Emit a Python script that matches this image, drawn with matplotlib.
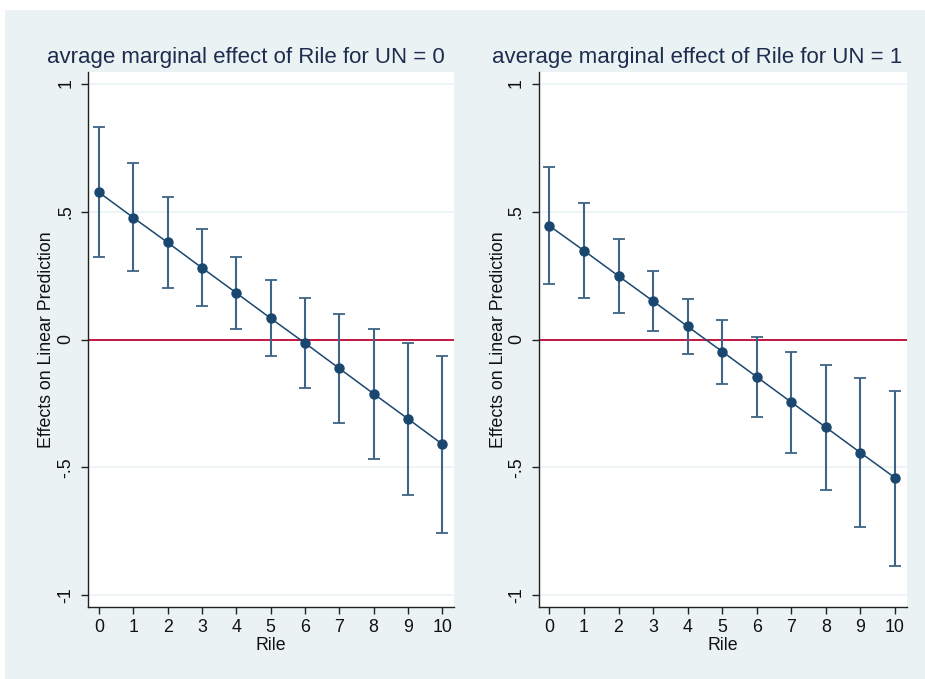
import matplotlib
matplotlib.use("Agg")
import matplotlib.pyplot as plt
from matplotlib.patches import Rectangle
import numpy as np

plt.rcParams['font.family'] = ['Liberation Sans', 'DejaVu Sans']

rile = [0, 1, 2, 3, 4, 5, 6, 7, 8, 9, 10]

# UN = 0
est0 = [0.575, 0.476, 0.379, 0.280, 0.182, 0.083, -0.014, -0.113, -0.212, -0.310, -0.409]
hi0 = [0.829, 0.690, 0.555, 0.432, 0.324, 0.234, 0.161, 0.098, 0.042, -0.012, -0.063]
lo0 = [0.324, 0.266, 0.203, 0.130, 0.042, -0.066, -0.191, -0.326, -0.465, -0.608, -0.754]

# UN = 1
est1 = [0.444, 0.347, 0.248, 0.150, 0.051, -0.047, -0.146, -0.245, -0.343, -0.442, -0.540]
hi1 = [0.675, 0.532, 0.394, 0.267, 0.159, 0.076, 0.010, -0.047, -0.099, -0.150, -0.200]
lo1 = [0.215, 0.162, 0.103, 0.034, -0.056, -0.172, -0.303, -0.444, -0.588, -0.733, -0.883]

titles = ["avrage marginal effect of Rile for UN = 0",
          "average marginal effect of Rile for UN = 1"]
ytick_vals = [-1, -0.5, 0, 0.5, 1]
ytick_labels = ["-1", "-.5", "0", ".5", "1"]
xlabel = "Rile"
ylabel = "Effects on Linear Prediction"

BG = "#eaf2f3"
NAVY = "#1a476f"
ERR = "#3e6487"
RED = "#c10534"
TXT = "#1e2d4f"

W, H = 925, 679
fig = plt.figure(figsize=(W / 100, H / 100), dpi=100)
fig.patch.set_facecolor("white")
fig.add_artist(Rectangle((5 / W, 0), 1 - 5 / W, 1 - 10 / H, transform=fig.transFigure,
                         facecolor=BG, edgecolor="none", zorder=-10))

panels = [
    dict(x0=88.3, x1=454.0, est=est0, hi=hi0, lo=lo0, title=titles[0], tx=246, ylx=47),
    dict(x0=538.7, x1=906.7, est=est1, hi=hi1, lo=lo1, title=titles[1], tx=697, ylx=498),
]
top, bot = 72, 607

for p in panels:
    ax = fig.add_axes([p['x0'] / W, 1 - bot / H, (p['x1'] - p['x0']) / W, (bot - top) / H])
    ax.set_facecolor("white")
    ax.set_xlim(-0.31, 10.34)
    ax.set_ylim(-1.045, 1.045)
    for yv in ytick_vals:
        ax.axhline(yv, color=BG, lw=1.1, zorder=0)
    ax.axhline(0, color=RED, lw=1.3, zorder=1)
    est = np.array(p['est']); hi = np.array(p['hi']); lo = np.array(p['lo'])
    ax.errorbar(rile, est, yerr=[est - lo, hi - est], fmt='none', ecolor=ERR,
                elinewidth=1.5, capsize=4, capthick=1.3, zorder=2)
    ax.plot(rile, est, color=NAVY, lw=1.1, marker='o', markersize=6.5,
            markerfacecolor=NAVY, markeredgecolor=NAVY, zorder=3)
    for s in ['top', 'right']:
        ax.spines[s].set_visible(False)
    for s in ['left', 'bottom']:
        ax.spines[s].set_color("#222222")
        ax.spines[s].set_linewidth(1.0)
    ax.set_xticks(rile)
    ax.set_xticklabels([str(r) for r in rile])
    ax.set_yticks(ytick_vals)
    ax.set_yticklabels(ytick_labels, rotation=90, va='center')
    ax.tick_params(axis='both', direction='out', length=5, width=1.0, color="#222222",
                   labelsize=12.8, labelcolor="#111111")
    ax.tick_params(axis='y', pad=5)
    ax.tick_params(axis='x', pad=4)
    ax.set_xlabel(xlabel, fontsize=12.8, color="#111111", labelpad=0)
    fig.text(p['ylx'] / W, 1 - 340 / H, ylabel, rotation=90, ha='center', va='center',
             fontsize=12.8, color="#111111")
    fig.text(p['tx'] / W, 1 - 58 / H, p['title'], ha='center', va='center',
             fontsize=16, color=TXT)

fig.savefig("out.png", dpi=100, facecolor=fig.get_facecolor())
